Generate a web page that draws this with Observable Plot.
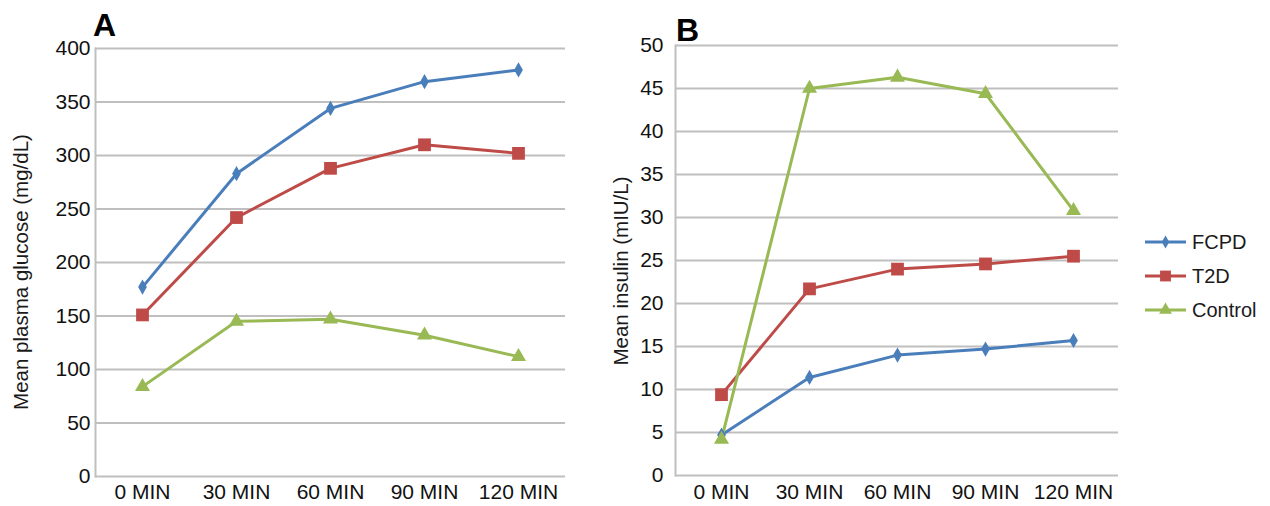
<!DOCTYPE html>
<html><head><meta charset="utf-8">
<script src="https://cdn.jsdelivr.net/npm/d3@7"></script>
<script src="https://cdn.jsdelivr.net/npm/@observablehq/plot@0.6"></script>
<style>
body{margin:0;background:#fff;font-family:"Liberation Sans",Arial,sans-serif;color:#1a1a1a;}
#wrap{position:relative;width:1270px;height:506px;overflow:hidden;background:#fff}
.abs{position:absolute}
.letter{font-weight:bold;font-size:32px;line-height:1;color:#000}
.ytitle{font-size:20.5px;white-space:nowrap;line-height:1;transform:translate(-50%,-50%) rotate(-90deg);}
.leg{position:absolute;display:flex;align-items:center;font-size:20px;line-height:1}
.leg svg{margin-right:6px}
</style></head><body>
<div id="wrap">
  <div class="abs letter" style="left:93px;top:9px">A</div>
  <div class="abs letter" style="left:676px;top:14px">B</div>
  <div class="abs ytitle" style="left:21px;top:272px">Mean plasma glucose (mg/dL)</div>
  <div class="abs ytitle" style="left:621px;top:271px">Mean insulin (mIU/L)</div>
  <div id="panelA" class="abs" style="left:0;top:0"></div>
  <div id="panelB" class="abs" style="left:590px;top:0"></div>
  <div id="legend"></div>
</div>
<script>
const timeLabels = ["0 MIN", "30 MIN", "60 MIN", "90 MIN", "120 MIN"];
const seriesNames = ["FCPD", "T2D", "Control"];
const seriesColors = ["#4a7ebb", "#be4b48", "#98b954"];
const seriesSymbols = ["diamond", "square", "triangle"];
const seriesRadius = [4.6, 7.2, 5.6];

// Panel A: mean plasma glucose (mg/dL)
const glucoseFCPD = [177, 283, 344, 369, 380];
const glucoseT2D = [151, 242, 288, 310, 302];
const glucoseControl = [84, 145, 147, 132, 112];
const glucoseTicks = [0, 50, 100, 150, 200, 250, 300, 350, 400];

// Panel B: mean insulin (mIU/L)
const insulinFCPD = [4.7, 11.4, 14.0, 14.7, 15.7];
const insulinT2D = [9.4, 21.7, 24.0, 24.6, 25.5];
const insulinControl = [4.2, 45.0, 46.3, 44.4, 30.8];
const insulinTicks = [0, 5, 10, 15, 20, 25, 30, 35, 40, 45, 50];

function toRows(arrays) {
  const rows = [];
  arrays.forEach((vals, si) => vals.forEach((v, i) => rows.push({series: seriesNames[si], time: timeLabels[i], value: v})));
  return rows;
}

function panel(rows, ticks, o) {
  const marks = [
    Plot.ruleY(ticks, {stroke: "#bfbfbf", strokeWidth: 2}),
    Plot.frame({anchor: "left", stroke: "#bfbfbf", strokeWidth: 2}),
    Plot.axisX({tickSize: 0, tickPadding: o.xPad, label: null}),
    Plot.axisY({ticks: ticks, tickSize: 0, tickPadding: o.yPad, label: null})
  ];
  seriesNames.forEach((s, i) => {
    const d = rows.filter(r => r.series === s);
    marks.push(Plot.line(d, {x: "time", y: "value", stroke: seriesColors[i], strokeWidth: 3}));
  });
  seriesNames.forEach((s, i) => {
    const d = rows.filter(r => r.series === s);
    marks.push(Plot.dot(d, {x: "time", y: "value", symbol: seriesSymbols[i], r: seriesRadius[i], fill: seriesColors[i], stroke: "none"}));
  });
  return Plot.plot({
    width: o.width, height: 506,
    marginLeft: o.ml, marginRight: o.mr, marginTop: o.mt, marginBottom: o.mb,
    style: {fontSize: "21px", fontFamily: "Liberation Sans, Arial, sans-serif", color: "#111", background: "transparent", overflow: "visible"},
    x: {type: "point", domain: timeLabels, padding: 0.5},
    y: {domain: o.domain},
    marks
  });
}

document.getElementById("panelA").append(panel(
  toRows([glucoseFCPD, glucoseT2D, glucoseControl]), glucoseTicks,
  {width: 590, ml: 95, mr: 25, mt: 48, mb: 30, domain: [0, 400], xPad: 8, yPad: 5}
));
document.getElementById("panelB").append(panel(
  toRows([insulinFCPD, insulinT2D, insulinControl]), insulinTicks,
  {width: 540, ml: 85, mr: 12, mt: 45, mb: 31, domain: [0, 50], xPad: 9, yPad: 12}
));

// Legend
const legend = d3.select("#legend");
const legendY = [242, 276, 310];
seriesNames.forEach((s, i) => {
  const item = legend.append("div").attr("class", "leg").style("left", "1145px").style("top", (legendY[i] - 12) + "px").style("height", "24px");
  const svg = item.append("svg").attr("width", 41).attr("height", 24);
  svg.append("line").attr("x1", 0).attr("x2", 41).attr("y1", 12).attr("y2", 12).attr("stroke", seriesColors[i]).attr("stroke-width", 3);
  const sym = {diamond: d3.symbolDiamond, square: d3.symbolSquare, triangle: d3.symbolTriangle}[seriesSymbols[i]];
  const r = seriesRadius[i] * 0.85;
  svg.append("path").attr("transform", "translate(20.5,12)").attr("d", d3.symbol(sym, Math.PI * r * r)()).attr("fill", seriesColors[i]);
  item.append("span").text(s);
});
</script>
</body></html>
